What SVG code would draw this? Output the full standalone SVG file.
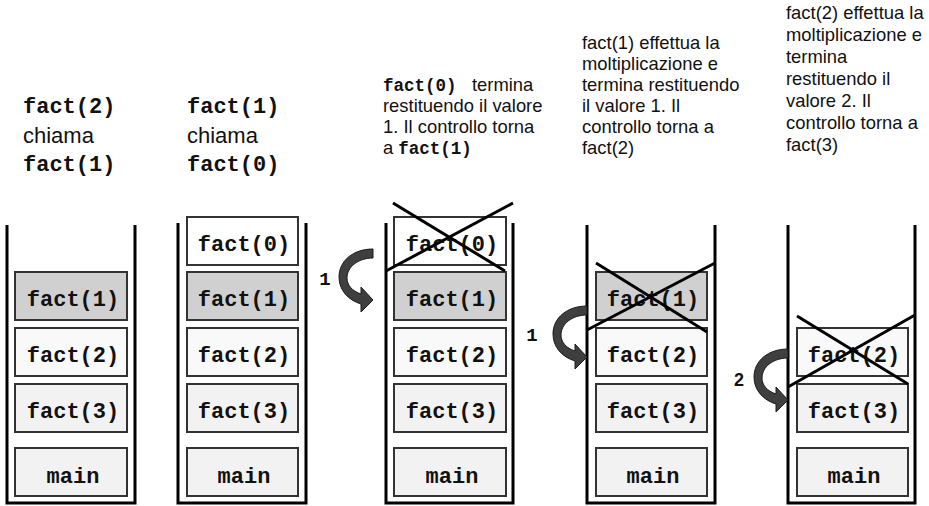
<svg xmlns="http://www.w3.org/2000/svg" xmlns:xlink="http://www.w3.org/1999/xlink" width="929" height="506" viewBox="0 0 929 506">
<style>
.wall{fill:none;stroke:#000;stroke-width:3}
.box{stroke:#333;stroke-width:2}
.f0{fill:#ffffff}.f1{fill:#d0d0d0}.f2{fill:#f9f9f9}.f3{fill:#f2f2f2}.fm{fill:#f2f2f2}
.bt{font-family:"Liberation Mono","Courier New",monospace;font-weight:bold;font-size:22px;fill:#111;text-anchor:middle}
.hm{font-family:"Liberation Mono","Courier New",monospace;font-weight:bold;font-size:22px;fill:#111}
.hs{font-family:"Liberation Sans",Arial,sans-serif;font-size:22px;fill:#111}
.ds{font-family:"Liberation Sans",Arial,sans-serif;font-size:18.4px;fill:#111}
.dm{font-family:"Liberation Mono","Courier New",monospace;font-weight:bold;font-size:17.5px;fill:#111}
.cross{stroke:#000;stroke-width:3;fill:none}
.arr{fill:#3f3f3f;stroke:#1a1a1a;stroke-width:1}
.num{font-family:"Liberation Mono","Courier New",monospace;font-weight:bold;font-size:19px;fill:#111;text-anchor:middle}
.num2{font-family:"Liberation Sans",Arial,sans-serif;font-weight:bold;font-size:18px;fill:#111;text-anchor:middle}
</style>
<defs>
<path id="curvarrow" d="M 0,0 C -20,0 -34,12 -34,28 C -34,41 -25,51 -12,55 L -12,63 L 0,51 L -12,38 L -12,45 C -21,42 -26,36 -26,29 C -26,18 -15,9 0,9 Z"/>
</defs>

<!-- header texts -->
<g id="caption1">
<text class="hm" x="23" y="113">fact(2)</text>
<text class="hs" x="23" y="143">chiama</text>
<text class="hm" x="23" y="171">fact(1)</text>
</g>
<g id="caption2">
<text class="hm" x="187" y="113">fact(1)</text>
<text class="hs" x="187" y="143">chiama</text>
<text class="hm" x="187" y="171">fact(0)</text>
</g>
<g id="caption3">
<text class="dm" x="383" y="91">fact(0)</text>
<text class="ds" x="472" y="91">termina</text>
<text class="ds" x="383" y="112">restituendo il valore</text>
<text class="ds" x="383" y="133">1. Il controllo torna</text>
<text class="ds" x="383" y="154">a <tspan class="dm">fact(1)</tspan></text>
</g>
<g id="caption4">
<text class="ds" x="582" y="49">fact(1) effettua la</text>
<text class="ds" x="582" y="70">moltiplicazione e</text>
<text class="ds" x="582" y="91">termina restituendo</text>
<text class="ds" x="582" y="112">il valore 1. Il</text>
<text class="ds" x="582" y="133">controllo torna a</text>
<text class="ds" x="582" y="154">fact(2)</text>
</g>
<g id="caption5">
<text class="ds" x="786" y="19">fact(2) effettua la</text>
<text class="ds" x="786" y="41">moltiplicazione e</text>
<text class="ds" x="786" y="63">termina</text>
<text class="ds" x="786" y="85">restituendo il</text>
<text class="ds" x="786" y="107">valore 2. Il</text>
<text class="ds" x="786" y="129">controllo torna a</text>
<text class="ds" x="786" y="151">fact(3)</text>
</g>

<!-- stack 1 -->
<g id="stack1">
<path class="wall" d="M7,225 V503 H135 V225"/>
<g id="s1-fact1"><rect class="box f1" x="15" y="272" width="112" height="48"/><text class="bt" x="73" y="306">fact(1)</text></g>
<g id="s1-fact2"><rect class="box f2" x="15" y="328" width="112" height="48"/><text class="bt" x="73" y="362">fact(2)</text></g>
<g id="s1-fact3"><rect class="box f3" x="15" y="384" width="112" height="48"/><text class="bt" x="73" y="418">fact(3)</text></g>
<g id="s1-main"><rect class="box fm" x="15" y="448" width="112" height="48"/><text class="bt" x="73" y="483">main</text></g>
</g>

<!-- stack 2 -->
<g id="stack2">
<path class="wall" d="M178,223 V503 H306 V223"/>
<g id="s2-fact0"><rect class="box f0" x="187" y="217" width="111" height="48"/><text class="bt" x="244" y="251">fact(0)</text></g>
<g id="s2-fact1"><rect class="box f1" x="187" y="272" width="111" height="48"/><text class="bt" x="244" y="306">fact(1)</text></g>
<g id="s2-fact2"><rect class="box f2" x="187" y="328" width="111" height="48"/><text class="bt" x="244" y="362">fact(2)</text></g>
<g id="s2-fact3"><rect class="box f3" x="187" y="384" width="111" height="48"/><text class="bt" x="244" y="418">fact(3)</text></g>
<g id="s2-main"><rect class="box fm" x="187" y="448" width="111" height="48"/><text class="bt" x="244" y="483">main</text></g>
</g>

<!-- stack 3 -->
<g id="stack3">
<path class="wall" d="M386,223 V503 H513 V223"/>
<g id="s3-fact0"><rect class="box f0" x="394" y="217" width="112" height="48"/><text class="bt" x="452" y="251">fact(0)</text></g>
<g id="s3-fact1"><rect class="box f1" x="394" y="272" width="112" height="48"/><text class="bt" x="452" y="306">fact(1)</text></g>
<g id="s3-fact2"><rect class="box f2" x="394" y="328" width="112" height="48"/><text class="bt" x="452" y="362">fact(2)</text></g>
<g id="s3-fact3"><rect class="box f3" x="394" y="384" width="112" height="48"/><text class="bt" x="452" y="418">fact(3)</text></g>
<g id="s3-main"><rect class="box fm" x="394" y="448" width="112" height="48"/><text class="bt" x="452" y="483">main</text></g>
<path class="cross" d="M393,203 L505,271 M513,203 L386,271"/>
</g>

<!-- stack 4 -->
<g id="stack4">
<path class="wall" d="M587,225 V503 H715 V225"/>
<g id="s4-fact1"><rect class="box f1" x="596" y="272" width="111" height="48"/><text class="bt" x="653" y="306">fact(1)</text></g>
<g id="s4-fact2"><rect class="box f2" x="596" y="328" width="111" height="48"/><text class="bt" x="653" y="362">fact(2)</text></g>
<g id="s4-fact3"><rect class="box f3" x="596" y="384" width="111" height="48"/><text class="bt" x="653" y="418">fact(3)</text></g>
<g id="s4-main"><rect class="box fm" x="596" y="448" width="111" height="48"/><text class="bt" x="653" y="483">main</text></g>
<path class="cross" d="M596,263 L707,332 M715,263 L587,330"/>
</g>

<!-- stack 5 -->
<g id="stack5">
<path class="wall" d="M788,225 V503 H915 V225"/>
<g id="s5-fact2"><rect class="box f2" x="797" y="328" width="111" height="48"/><text class="bt" x="854" y="362">fact(2)</text></g>
<g id="s5-fact3"><rect class="box f3" x="797" y="384" width="111" height="48"/><text class="bt" x="854" y="418">fact(3)</text></g>
<g id="s5-main"><rect class="box fm" x="797" y="448" width="111" height="48"/><text class="bt" x="854" y="483">main</text></g>
<path class="cross" d="M797,316 L908,384 M915,315 L788,387"/>
</g>

<!-- connectors -->
<g id="connectors">
<use xlink:href="#curvarrow" href="#curvarrow" class="arr" transform="translate(373,249)"/>
<text class="num" x="325" y="285">1</text>
<use xlink:href="#curvarrow" href="#curvarrow" class="arr" transform="translate(587,306)"/>
<text class="num" x="532" y="341">1</text>
<use xlink:href="#curvarrow" href="#curvarrow" class="arr" transform="translate(788,349)"/>
<text class="num2" x="739" y="386">2</text>
</g>
</svg>
